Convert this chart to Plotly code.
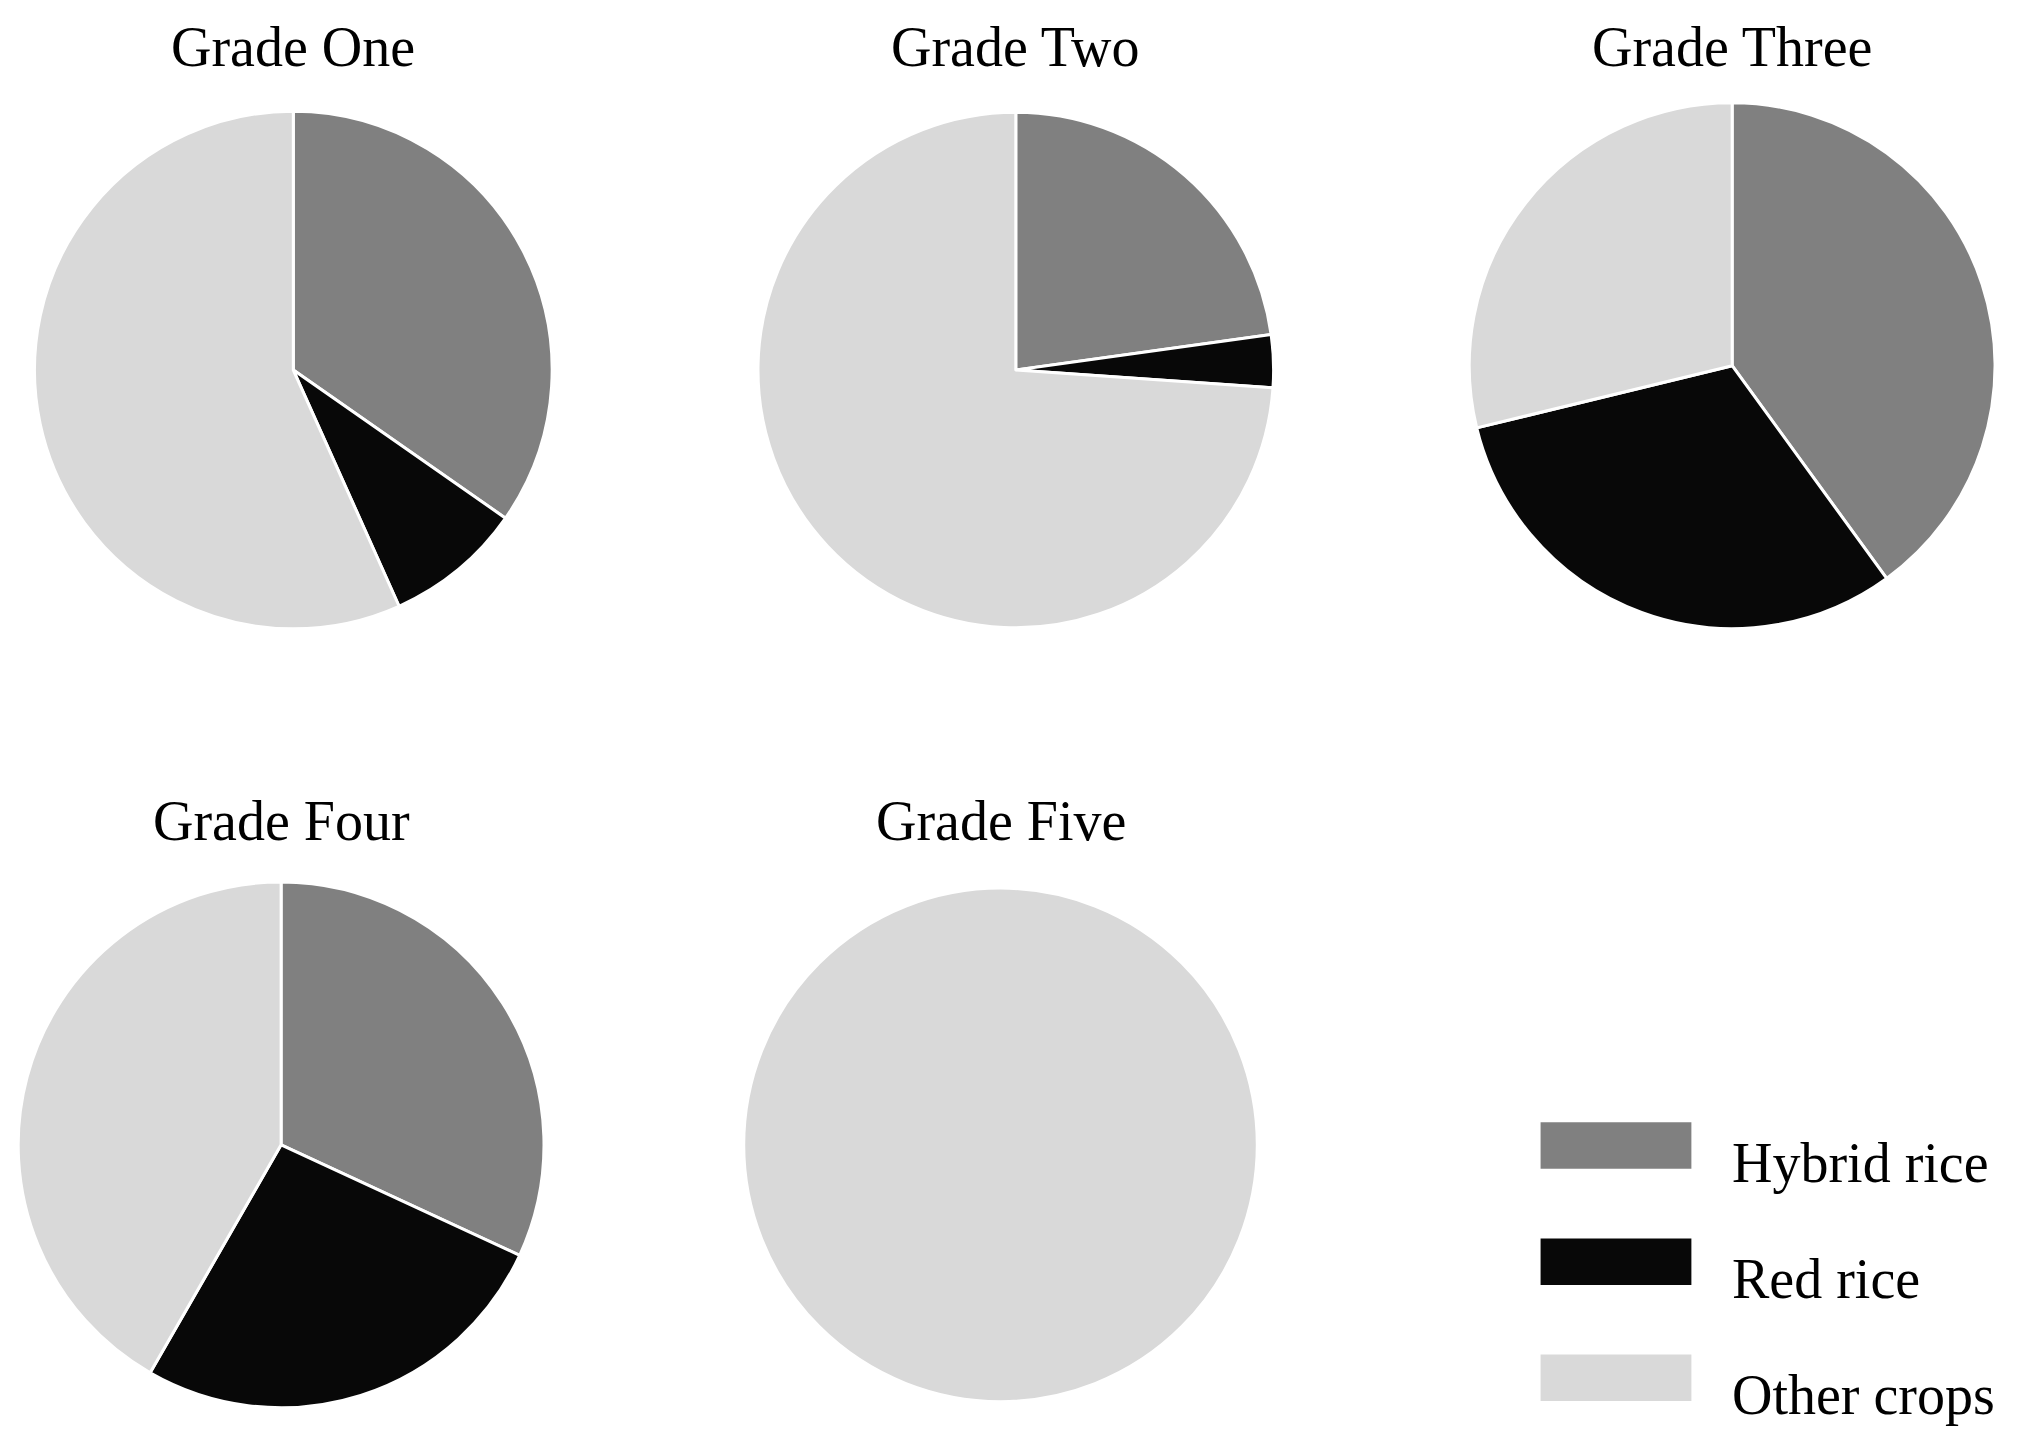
import plotly.graph_objects as go

categories = ["Hybrid rice", "Red rice", "Other crops"]
colors = ["#808080", "#080808", "#d9d9d9"]
grades = ["Grade One", "Grade Two", "Grade Three", "Grade Four", "Grade Five"]
grade_one = [34.7, 8.6, 56.7]
grade_two = [22.8, 3.3, 73.9]
grade_three = [40.0, 31.2, 28.8]
grade_four = [31.9, 26.4, 41.7]
grade_five = [0, 0, 100]

values = [grade_one, grade_two, grade_three, grade_four, grade_five]
domains = [
    dict(x=[0.013, 0.267], y=[0.572, 0.929]),
    dict(x=[0.368, 0.621], y=[0.572, 0.929]),
    dict(x=[0.717, 0.975], y=[0.572, 0.935]),
    dict(x=[0.005, 0.263], y=[0.035, 0.398]),
    dict(x=[0.361, 0.613], y=[0.039, 0.394]),
]
title_y = [0.973, 0.973, 0.973, 0.44, 0.44]

FONT = "Liberation Serif"
fig = go.Figure()
for name, vals, dom, ty in zip(grades, values, domains, title_y):
    fig.add_trace(go.Pie(
        labels=categories, values=vals, domain=dom, sort=False,
        direction="clockwise", rotation=0, textinfo="none", hoverinfo="label+percent",
        marker=dict(colors=colors, line=dict(color="white", width=3)),
        showlegend=False,
    ))
    fig.add_annotation(x=(dom["x"][0] + dom["x"][1]) / 2, y=ty, xref="paper", yref="paper",
                       xanchor="center", yanchor="middle",
                       text=name, showarrow=False, font=dict(family=FONT, size=56, color="black"))

# legend drawn as boxes + labels
legend_y = [(0.200, 0.232), (0.120, 0.152), (0.040, 0.072)]
for cat, col, (y0, y1) in zip(categories, colors, legend_y):
    fig.add_shape(type="rect", xref="paper", yref="paper", x0=0.752, x1=0.826, y0=y0, y1=y1,
                  fillcolor=col, line=dict(width=0))
    fig.add_annotation(x=0.845, y=(y0 + y1) / 2 - 0.012, xref="paper", yref="paper", text=cat,
                       showarrow=False, xanchor="left", yanchor="middle",
                       font=dict(family=FONT, size=56, color="black"))

fig.update_layout(width=2038, height=1451, margin=dict(l=0, r=0, t=0, b=0),
                  paper_bgcolor="white", plot_bgcolor="white")
fig.write_html("out.html")
